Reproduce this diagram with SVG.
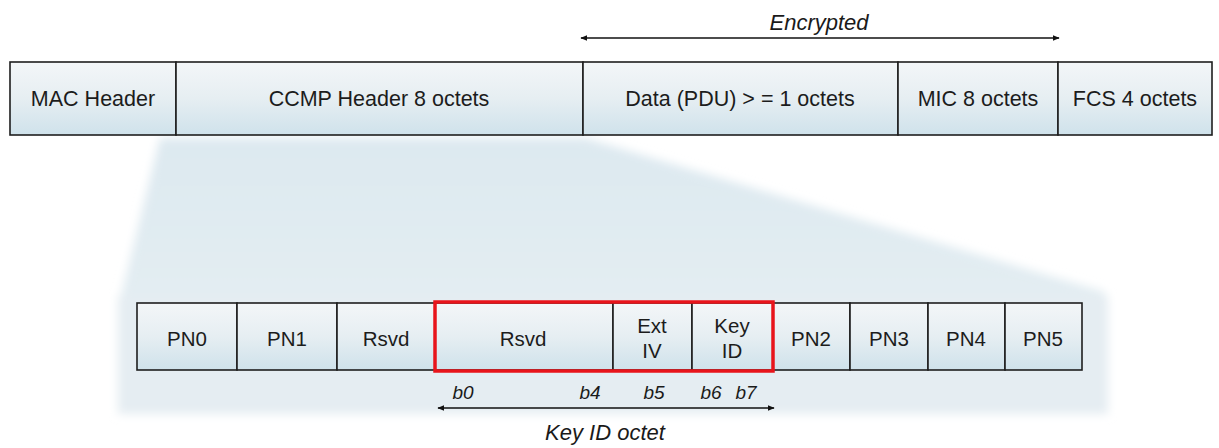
<svg xmlns="http://www.w3.org/2000/svg" width="1219" height="448" viewBox="0 0 1219 448">
<style>
.cell{fill:url(#cellGrad);stroke:#1e1e1e;stroke-width:1.6}
.lbl{font-family:"Liberation Sans",Arial,sans-serif;font-size:21.5px;fill:#1c1c1c;text-anchor:middle}
.lbs{font-family:"Liberation Sans",Arial,sans-serif;font-size:20.5px;fill:#1c1c1c;text-anchor:middle}
.ital{font-family:"Liberation Sans",Arial,sans-serif;font-style:italic;font-size:22px;fill:#1a1a1a;text-anchor:middle}
.bit{font-family:"Liberation Sans",Arial,sans-serif;font-style:italic;font-size:19px;fill:#1a1a1a;text-anchor:middle}
.arr{stroke:#111;stroke-width:1.6;fill:none;marker-start:url(#ah);marker-end:url(#ah)}
</style>
<defs>
<linearGradient id="cellGrad" x1="0" y1="0" x2="0" y2="1">
<stop offset="0" stop-color="#f3f6f8"/>
<stop offset="0.5" stop-color="#e6eef2"/>
<stop offset="1" stop-color="#cfe2eb"/>
</linearGradient>
<linearGradient id="shadeGrad" x1="0" y1="0" x2="0" y2="1">
<stop offset="0" stop-color="#dde9f0"/>
<stop offset="1" stop-color="#e3edf2"/>
</linearGradient>
<filter id="blur" x="-10%" y="-10%" width="120%" height="120%"><feGaussianBlur stdDeviation="5"/></filter>
<marker id="ah" viewBox="0 0 10 10" refX="9" refY="5" markerWidth="7" markerHeight="7" orient="auto-start-reverse" markerUnits="userSpaceOnUse">
<path d="M0,1 L10,5 L0,9 z" fill="#111"/>
</marker>
</defs>
<rect width="1219" height="448" fill="#ffffff"/>

<g id="projection" filter="url(#blur)">
<polygon points="160,138 585,138 1105,292 1105,300 120,300" fill="url(#shadeGrad)"/>
<rect x="118" y="296" width="990" height="118" fill="#e5edf2"/>
</g>

<g id="top-row">
<g id="mac-header"><rect class="cell" x="10" y="62" width="166" height="73"/><text class="lbl" x="93" y="106">MAC Header</text></g>
<g id="ccmp-header"><rect class="cell" x="176" y="62" width="407" height="73"/><text class="lbl" x="379" y="106">CCMP Header 8 octets</text></g>
<g id="data-pdu"><rect class="cell" x="583" y="62" width="315" height="73"/><text class="lbl" x="740" y="106">Data (PDU) &gt; = 1 octets</text></g>
<g id="mic"><rect class="cell" x="898" y="62" width="160" height="73"/><text class="lbl" x="978" y="106">MIC 8 octets</text></g>
<g id="fcs"><rect class="cell" x="1058" y="62" width="154" height="73"/><text class="lbl" x="1135" y="106">FCS 4 octets</text></g>
</g>

<g id="bottom-row">
<g id="pn0"><rect class="cell" x="137" y="303" width="100" height="67"/><text class="lbs" x="187" y="346">PN0</text></g>
<g id="pn1"><rect class="cell" x="237" y="303" width="100" height="67"/><text class="lbs" x="287" y="346">PN1</text></g>
<g id="rsvd1"><rect class="cell" x="337" y="303" width="98" height="67"/><text class="lbs" x="386" y="346">Rsvd</text></g>
<g id="rsvd2"><rect class="cell" x="435" y="303" width="178" height="67"/><text class="lbs" x="523" y="346">Rsvd</text></g>
<g id="ext-iv"><rect class="cell" x="613" y="303" width="79" height="67"/><text class="lbs" x="652" y="333">Ext</text><text class="lbs" x="652" y="358">IV</text></g>
<g id="key-id"><rect class="cell" x="692" y="303" width="81" height="67"/><text class="lbs" x="732" y="333">Key</text><text class="lbs" x="732" y="358">ID</text></g>
<g id="pn2"><rect class="cell" x="773" y="303" width="77" height="67"/><text class="lbs" x="811" y="346">PN2</text></g>
<g id="pn3"><rect class="cell" x="850" y="303" width="78" height="67"/><text class="lbs" x="889" y="346">PN3</text></g>
<g id="pn4"><rect class="cell" x="928" y="303" width="77" height="67"/><text class="lbs" x="966" y="346">PN4</text></g>
<g id="pn5"><rect class="cell" x="1005" y="303" width="77" height="67"/><text class="lbs" x="1043" y="346">PN5</text></g>
</g>

<g id="key-id-highlight">
<rect x="435" y="302" width="338" height="69" fill="none" stroke="#e8141b" stroke-width="3.5"/>
</g>

<g id="connectors">
<line class="arr" x1="581" y1="38" x2="1059" y2="38"/>
<line class="arr" x1="438" y1="408" x2="774" y2="408"/>
</g>

<g id="labels">
<text class="ital" x="819" y="30">Encrypted</text>
<text class="bit" x="463" y="399">b0</text>
<text class="bit" x="590" y="399">b4</text>
<text class="bit" x="654" y="399">b5</text>
<text class="bit" x="711" y="399">b6</text>
<text class="bit" x="746" y="399">b7</text>
<text class="ital" x="605" y="440">Key ID octet</text>
</g>
</svg>
